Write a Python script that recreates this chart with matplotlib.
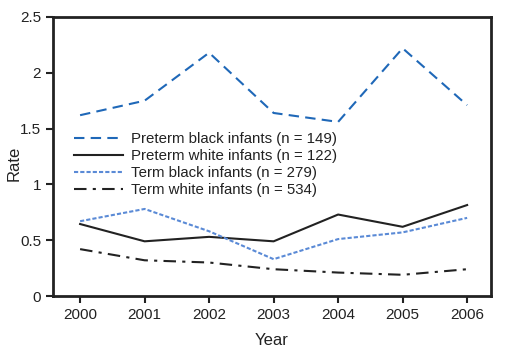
import matplotlib
matplotlib.use("Agg")
import matplotlib.pyplot as plt

plt.rcParams['font.family'] = ['Liberation Sans', 'DejaVu Sans']

years = [2000, 2001, 2002, 2003, 2004, 2005, 2006]
preterm_black = [1.62, 1.75, 2.18, 1.64, 1.56, 2.22, 1.71]
preterm_white = [0.645, 0.49, 0.53, 0.49, 0.73, 0.62, 0.815]
term_black = [0.67, 0.78, 0.58, 0.33, 0.51, 0.57, 0.70]
term_white = [0.42, 0.32, 0.30, 0.24, 0.21, 0.19, 0.24]

labels = ["Preterm black infants (n = 149)",
          "Preterm white infants (n = 122)",
          "Term black infants (n = 279)",
          "Term white infants (n = 534)"]

fig = plt.figure(figsize=(5.07, 3.53), dpi=100)
ax = fig.add_axes([53/507, 57/353, 438/507, 279/353])

ax.plot(years, preterm_black, color="#1f68b8", lw=1.5, dashes=(5, 3), label=labels[0])
ax.plot(years, preterm_white, color="#222222", lw=1.5, label=labels[1])
ax.plot(years, term_black, color="#5a8ad6", lw=1.5, dashes=(2, 1), label=labels[2])
ax.plot(years, term_white, color="#222222", lw=1.5, dashes=(6, 3, 1.5, 3), label=labels[3])

ax.set_xlim(1999.58, 2006.37)
ax.set_ylim(0, 2.5)
ax.set_xticks(years)
ax.set_yticks([0, 0.5, 1, 1.5, 2, 2.5])
ax.set_yticklabels(["0", "0.5", "1", "1.5", "2", "2.5"])
ax.tick_params(direction="out", length=5, width=1.5, labelsize=11, colors="#222222", pad=3.5)
for s in ax.spines.values():
    s.set_linewidth(2)
    s.set_color("#222222")

ax.set_xlabel("Year", fontsize=12, color="#222222", labelpad=8)
ax.set_ylabel("Rate", fontsize=12, color="#222222")
ax.yaxis.set_label_coords(-0.072, 0.477)

ax.legend(loc="upper left", bbox_to_anchor=(0.034, 0.61), frameon=False,
          fontsize=10.8, handlelength=3.3, handletextpad=0.5,
          labelspacing=0.2, borderaxespad=0, labelcolor="#222222")

plt.savefig("out.png", dpi=100)
